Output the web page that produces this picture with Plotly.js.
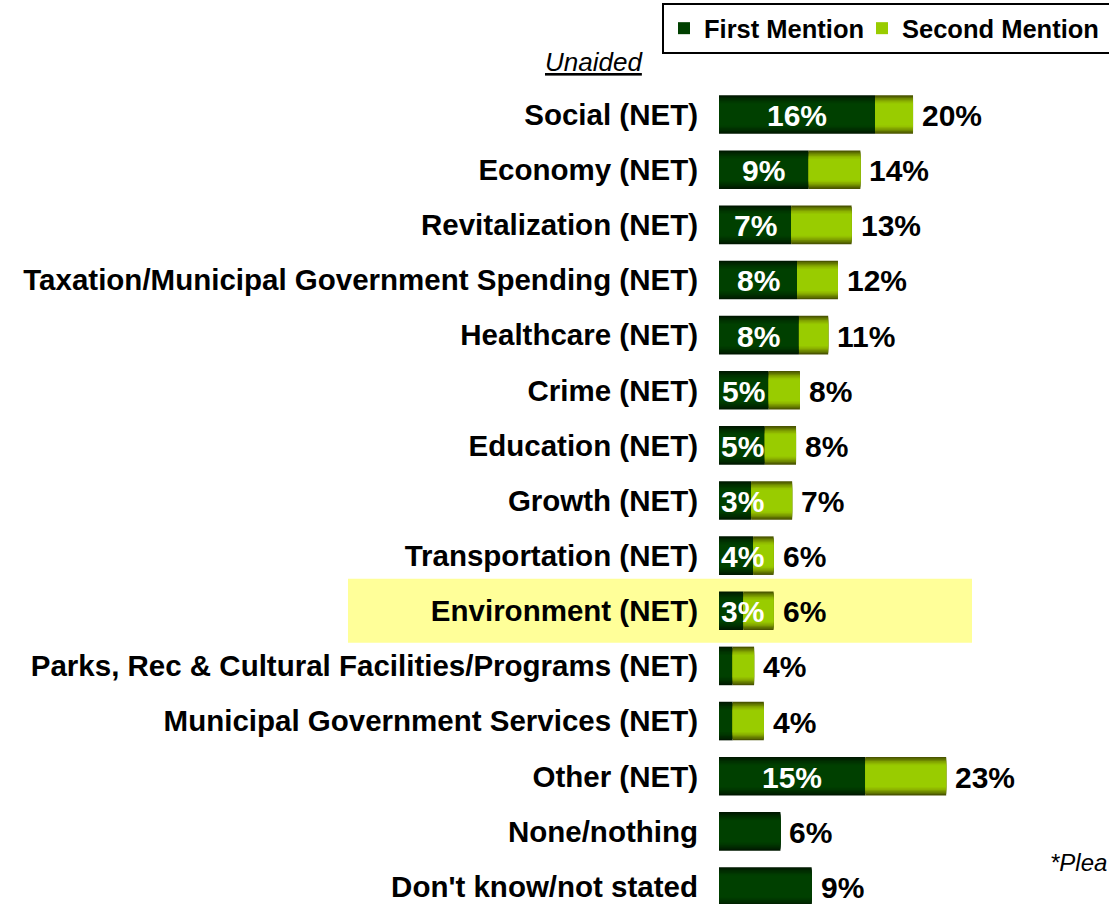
<!DOCTYPE html>
<html>
<head>
<meta charset="utf-8">
<script src="https://cdn.plot.ly/plotly-3.0.1.min.js"></script>
<style>
  html, body { margin: 0; padding: 0; background: #ffffff; }
  #chart { width: 1109px; height: 904px; }
</style>
</head>
<body>
<div id="chart"></div>
<script>
// ---------------- data ----------------
var categories = [
  'Social (NET)',
  'Economy (NET)',
  'Revitalization (NET)',
  'Taxation/Municipal Government Spending (NET)',
  'Healthcare (NET)',
  'Crime (NET)',
  'Education (NET)',
  'Growth (NET)',
  'Transportation (NET)',
  'Environment (NET)',
  'Parks, Rec & Cultural Facilities/Programs (NET)',
  'Municipal Government Services (NET)',
  'Other (NET)',
  'None/nothing',
  "Don't know/not stated"
];
// bar lengths (percent)
var firstMention  = [16.0, 9.2, 7.4, 8.0, 8.2, 5.1, 4.7, 3.3, 3.5, 2.5, 1.4, 1.4, 15.0, 6.3, 9.5];
var secondMention = [3.9, 5.3, 6.2, 4.2, 3.0, 3.2, 3.2, 4.2, 2.1, 3.1, 2.2, 3.2, 8.3, 0, 0];
// printed labels
var firstLabels = ['16%', '9%', '7%', '8%', '8%', '5%', '5%', '3%', '4%', '3%', '', '', '15%', '', ''];
var totalLabels = ['20%', '14%', '13%', '12%', '11%', '8%', '8%', '7%', '6%', '6%', '4%', '4%', '23%', '6%', '9%'];
var highlightCategory = 'Environment (NET)';
var seriesNames = ['First Mention', 'Second Mention'];

// ---------------- styling ----------------
var FONT = 'Liberation Sans, Arial, Helvetica, sans-serif';
var layerWidths  = [0.70, 0.65, 0.60, 0.55, 0.50, 0.45, 0.40];
var firstColors  = ['#001800', '#002200', '#002a00', '#003100', '#003700', '#003c00', '#004000'];
var secondColors = ['#4a5500', '#5c6f00', '#6e8800', '#7fa000', '#8cb300', '#95c200', '#99cc00'];
var legendWidths = [153, 260];

var traces = [];
layerWidths.forEach(function (w, i) {
  traces.push({
    type: 'bar', orientation: 'h',
    x: firstMention, y: categories,
    width: w,
    marker: { color: firstColors[i], line: { width: 0 } },
    name: seriesNames[0],
    showlegend: i === layerWidths.length - 1,
    legendwidth: legendWidths[0],
    hoverinfo: 'skip'
  });
});
layerWidths.forEach(function (w, i) {
  traces.push({
    type: 'bar', orientation: 'h',
    x: secondMention, y: categories,
    base: firstMention,
    width: w,
    marker: { color: secondColors[i], line: { width: 0 } },
    name: seriesNames[1],
    showlegend: i === layerWidths.length - 1,
    legendwidth: legendWidths[1],
    hoverinfo: 'skip'
  });
});

var annotations = [];
categories.forEach(function (c, i) {
  if (firstLabels[i]) {
    annotations.push({
      xref: 'x', yref: 'y', x: Math.max(firstMention[i] / 2, 2.45), y: c,
      text: firstLabels[i], showarrow: false, xanchor: 'center', yanchor: 'middle',
      yshift: -1,
      font: { family: FONT, size: 30, color: '#ffffff', weight: 'bold' }
    });
  }
  annotations.push({
    xref: 'x', yref: 'y', x: firstMention[i] + secondMention[i], y: c,
    text: totalLabels[i], showarrow: false, xanchor: 'left', yanchor: 'middle',
    xshift: 7, yshift: -1,
    font: { family: FONT, size: 30, color: '#000000', weight: 'bold' }
  });
});
annotations.push({
  xref: 'paper', yref: 'paper', x: -0.3205, y: 1.0306,
  text: '<u>Unaided</u>', showarrow: false, xanchor: 'center', yanchor: 'middle',
  font: { family: FONT, size: 26, color: '#000000', style: 'italic' }
});
annotations.push({
  xref: 'paper', yref: 'paper', x: 0.8436, y: 0.0514,
  text: '*Plea', showarrow: false, xanchor: 'left', yanchor: 'middle',
  font: { family: FONT, size: 24, color: '#000000', style: 'italic' }
});

var hIdx = categories.indexOf(highlightCategory);

var layout = {
  width: 1109, height: 904,
  margin: { l: 719, r: 0, t: 87, b: 0, autoexpand: false },
  paper_bgcolor: '#ffffff', plot_bgcolor: 'rgba(0,0,0,0)',
  barmode: 'overlay',
  showlegend: true,
  legend: {
    orientation: 'h', x: -0.1462, y: 1.1027, xanchor: 'left', yanchor: 'top',
    bgcolor: '#ffffff', bordercolor: '#000000', borderwidth: 2,
    font: { family: FONT, size: 25.5, color: '#000000', weight: 'bold' },
    traceorder: 'normal'
  },
  xaxis: {
    range: [0, 40], showgrid: false, zeroline: false, showline: false,
    showticklabels: false, ticks: '', fixedrange: true
  },
  yaxis: {
    type: 'category', range: [14.318, -0.5],
    showgrid: false, zeroline: false, showline: false, ticks: '',
    ticklabelstandoff: 20,
    tickfont: { family: FONT, size: 29.5, color: '#000000', weight: 'bold' },
    fixedrange: true
  },
  shapes: [{
    type: 'rect', layer: 'below',
    xref: 'paper', yref: 'y',
    x0: -0.9513, x1: 0.6487, y0: hIdx - 0.58, y1: hIdx + 0.58,
    fillcolor: '#ffff99', line: { width: 0 }
  }],
  annotations: annotations
};

Plotly.newPlot('chart', traces, layout, { staticPlot: true, displayModeBar: false });
</script>
</body>
</html>
